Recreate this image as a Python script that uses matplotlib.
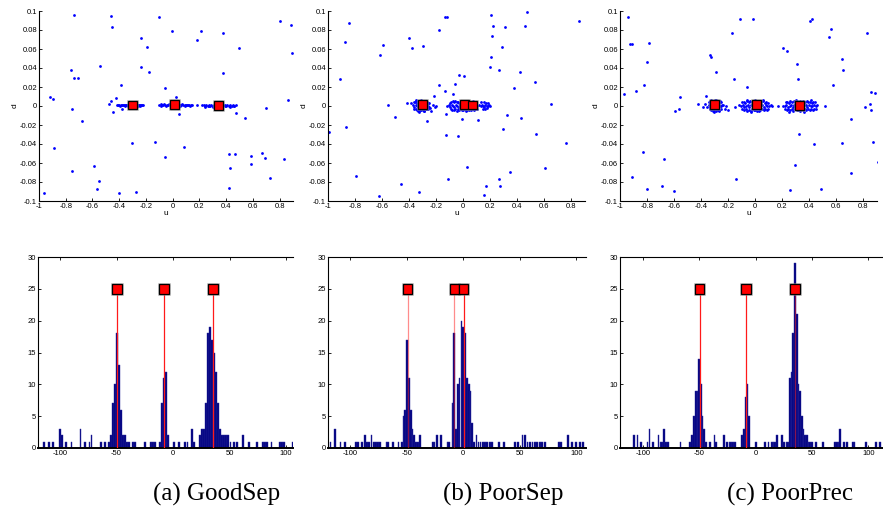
import matplotlib
matplotlib.use('Agg')
import matplotlib.pyplot as plt
import matplotlib.patheffects as pe
from matplotlib.ticker import FuncFormatter

plt.rcParams['font.family'] = ['Liberation Sans', 'DejaVu Sans']
plt.rcParams['axes.unicode_minus'] = False

# ---------------- data: captions ----------------
captions = ["(a) GoodSep", "(b) PoorSep", "(c) PoorPrec"]

# ---------------- data: scatter outliers (u, d) ----------------
out_u_a = [-0.735, -0.4625, -0.4575, -0.1, -0.005, 0.215, 0.375, 0.8, 0.885, -0.235, 0.1825, -0.19, 0.4975,
           0.895, -0.545, -0.235, -0.18, -0.7625, -0.735, -0.71, 0.375, -0.39, -0.06, -0.9175, -0.8925, -0.425,
           0.025, -0.46, 0.86, -0.4775, -0.755, -0.3825, 0.045, -0.4475, -0.68, 0.47, 0.5425, 0.6975, -0.3025,
           -0.1325, 0.085, -0.89, -0.055, 0.42, 0.4625, 0.585, 0.67, 0.6875, 0.8325, 0.585, -0.585, -0.75,
           0.4275, -0.5475, 0.73, -0.565, 0.42, -0.2725, -0.4025, -0.96, 0.1825]
out_d_a = [0.0954, 0.0947, 0.0828, 0.0933, 0.0786, 0.0793, 0.0765, 0.0895, 0.0849, 0.0719, 0.0698, 0.0618, 0.0611,
           0.0554, 0.0421, 0.0414, 0.0361, 0.0382, 0.0298, 0.0298, 0.0344, 0.0225, 0.0186, 0.0098, 0.007, 0.0081,
           0.0091, 0.0053, 0.006, 0.0018, -0.0028, -0.0032, -0.0084, -0.0063, -0.0154, -0.0074, -0.0126, -0.0025,
           -0.0393, -0.0379, -0.0432, -0.0442, -0.0537, -0.0505, -0.0509, -0.0526, -0.0491, -0.0544, -0.0558,
           -0.0614, -0.0635, -0.0681, -0.0649, -0.0789, -0.0761, -0.0877, -0.086, -0.0905, -0.0919, -0.0912, 0.0007]

out_u_b = [0.2025, 0.474, 0.857, -0.847, -0.138, -0.123, 0.222, 0.306, 0.459, -0.18, 0.215, -0.398, -0.877,
           -0.593, -0.294, -0.378, 0.289, -0.615, 0.207, 0.198, 0.264, 0.42, -0.032, 0.005, -0.909, 0.531,
           -0.064, -0.18, 0.378, -0.138, -0.077, -0.215, -0.417, -0.558, 0.652, -0.131, -0.506, -0.269, -0.007,
           0.109, 0.425, 0.326, -0.867, 0.296, -0.995, 0.541, -0.126, -0.037, 0.758, 0.025, 0.602, 0.343, -0.79,
           -0.114, 0.267, -0.459, 0.17, 0.274, -0.328, 0.151, -0.622]
out_d_b = [0.0958, 0.099, 0.0891, 0.0877, 0.0933, 0.094, 0.0842, 0.0835, 0.0842, 0.0796, 0.0737, 0.0719, 0.0674,
           0.0639, 0.0632, 0.0614, 0.0618, 0.0537, 0.0516, 0.0414, 0.0382, 0.0354, 0.033, 0.0312, 0.0281, 0.0253,
           0.0228, 0.0218, 0.0193, 0.0154, 0.0123, 0.0105, 0.0035, 0.0011, 0.0021, -0.0088, -0.0119, -0.0154,
           -0.014, -0.0144, -0.013, -0.0091, -0.0225, -0.0246, -0.0274, -0.0295, -0.0305, -0.0312, -0.0386,
           -0.0639, -0.0653, -0.0698, -0.0737, -0.0765, -0.0768, -0.0825, -0.0839, -0.0846, -0.0902, -0.094, -0.0951]

out_u_c = [-0.938, -0.116, -0.015, 0.406, 0.421, -0.17, 0.825, 0.557, 0.544, -0.924, -0.911, -0.783, 0.207,
           0.234, -0.8, -0.335, -0.325, 0.31, 0.64, 0.65, -0.293, -0.158, 0.313, 0.574, -0.062, -0.825, -0.884,
           0.852, 0.884, -0.968, -0.559, -0.367, 0.85, 0.81, -0.564, -0.591, 0.852, 0.515, 0.707, 0.323, 0.431,
           0.638, 0.867, -0.828, -0.677, 0.911, 0.293, 0.707, -0.914, -0.145, -0.69, -0.8, 0.485, 0.254, -0.603,
           -0.153]
out_d_c = [0.094, 0.0912, 0.0912, 0.0891, 0.0912, 0.0768, 0.0772, 0.0807, 0.073, 0.0653, 0.0649, 0.066, 0.0607,
           0.0582, 0.0467, 0.054, 0.0519, 0.0439, 0.0491, 0.0379, 0.0361, 0.0284, 0.0284, 0.0225, 0.02, 0.0221,
           0.0154, 0.0144, 0.014, 0.0126, 0.0098, 0.0105, 0.0025, -0.0014, -0.0028, -0.0056, -0.0046, 0.0,
           -0.0137, -0.0298, -0.04, -0.0393, -0.0382, -0.0484, -0.0558, -0.0589, -0.0625, -0.0705, -0.0747,
           -0.0765, -0.0846, -0.087, -0.0874, -0.0881, -0.0891, -0.0014]

# ---------------- data: scatter cluster points (u, d) ----------------
# GoodSep: three thin clusters
clu_u_a = [
    -0.415, -0.406, -0.398, -0.389, -0.381, -0.372, -0.364, -0.355, -0.347, -0.338, -0.330, -0.321, -0.313,
    -0.304, -0.296, -0.287, -0.279, -0.270, -0.262, -0.253, -0.245, -0.236, -0.228, -0.220,
    -0.392, -0.360, -0.334, -0.309, -0.283, -0.258, -0.241,
    -0.100, -0.091, -0.082, -0.073, -0.064, -0.055, -0.046, -0.037, -0.028, -0.019, -0.010, -0.001, 0.008,
    0.017, 0.026, 0.035, 0.044, 0.053, 0.062, 0.071, 0.080, 0.089, 0.098, 0.107, 0.116, 0.125, 0.134, 0.142,
    -0.085, -0.050, -0.014, 0.022, 0.058, 0.094, 0.128,
    0.221, 0.232, 0.239, 0.251, 0.262, 0.268, 0.281, 0.289, 0.301, 0.309, 0.322, 0.331, 0.338, 0.351, 0.359,
    0.371, 0.379, 0.392, 0.401, 0.408, 0.421, 0.429, 0.441, 0.449, 0.461, 0.472,
    0.245, 0.275, 0.305, 0.335, 0.365, 0.395, 0.425, 0.455]
clu_d_a = [
    0.0010, 0.0012, 0.0008, 0.0013, 0.0010, 0.0014, 0.0009, 0.0012, 0.0011, 0.0015, 0.0008, 0.0012, 0.0016,
    0.0010, 0.0013, 0.0009, 0.0014, 0.0011, 0.0012, 0.0008, 0.0013, 0.0010, 0.0011, 0.0009,
    -0.0002, 0.0002, -0.0003, 0.0001, -0.0002, 0.0003, -0.0001,
    0.0012, 0.0016, 0.0010, 0.0014, 0.0018, 0.0011, 0.0015, 0.0009, 0.0017, 0.0012, 0.0014, 0.0010, 0.0016,
    0.0012, 0.0018, 0.0011, 0.0015, 0.0013, 0.0009, 0.0016, 0.0012, 0.0014, 0.0010, 0.0015, 0.0011, 0.0013,
    0.0009, 0.0012,
    -0.0001, 0.0003, -0.0002, 0.0002, 0.0000, -0.0003, 0.0002,
    0.0006, 0.0009, 0.0004, 0.0008, 0.0003, 0.0010, 0.0005, 0.0007, 0.0002, 0.0009, 0.0006, 0.0004, 0.0011,
    0.0005, 0.0008, 0.0003, 0.0007, 0.0010, 0.0004, 0.0006, 0.0002, 0.0008, 0.0005, 0.0009, 0.0003, 0.0006,
    -0.0008, -0.0005, -0.0010, -0.0006, -0.0009, -0.0004, -0.0007, -0.0005]

# PoorSep: left blob and merged middle blob
clu_u_b = [
    -0.372, -0.362, -0.353, -0.344, -0.336, -0.327, -0.318, -0.309, -0.300, -0.291, -0.282, -0.273, -0.264, -0.255,
    -0.367, -0.357, -0.348, -0.339, -0.330, -0.321, -0.312, -0.303, -0.294, -0.285, -0.276, -0.267, -0.258, -0.250,
    -0.364, -0.351, -0.341, -0.332, -0.323, -0.314, -0.305, -0.296, -0.287, -0.278, -0.269, -0.260,
    -0.346, -0.329, -0.311, -0.289, -0.271,
    -0.385, -0.244, -0.236, -0.222, -0.209, -0.201,
    -0.118, -0.106, -0.095, -0.085, -0.075, -0.065, -0.055, -0.045, -0.035, -0.025, -0.015, -0.005, 0.005,
    0.015, 0.025, 0.035, 0.045, 0.055, 0.065, 0.075, 0.085, 0.095, 0.105,
    -0.100, -0.089, -0.079, -0.069, -0.059, -0.049, -0.039, -0.029, -0.019, -0.009, 0.001, 0.011, 0.021,
    0.031, 0.041, 0.051, 0.061, 0.071, 0.081, 0.091,
    -0.092, -0.081, -0.071, -0.061, -0.050, -0.040, -0.030, -0.020, -0.010, 0.000, 0.010, 0.020, 0.030,
    0.040, 0.050, 0.060, 0.070, 0.080, 0.090, 0.100,
    0.118, 0.128, 0.137, 0.146, 0.155, 0.164, 0.173, 0.182, 0.191, 0.200,
    0.132, 0.150, 0.168, 0.186,
    0.143, 0.161, 0.179]
clu_d_b = [
    0.0012, -0.0008, 0.0015, 0.0003, -0.0010, 0.0018, 0.0006, -0.0004, 0.0013, 0.0002, -0.0012, 0.0010, 0.0004, -0.0006,
    0.0038, 0.0042, 0.0050, 0.0035, 0.0046, 0.0055, 0.0040, 0.0048, 0.0036, 0.0044, 0.0052, 0.0039, 0.0033, 0.0030,
    -0.0030, -0.0036, -0.0042, -0.0050, -0.0038, -0.0046, -0.0033, -0.0041, -0.0048, -0.0035, -0.0028, -0.0032,
    0.0062, -0.0058, 0.0065, -0.0055, 0.0025,
    0.0030, -0.0020, -0.0050, 0.0010, -0.0015, 0.0005,
    0.0005, 0.0012, -0.0006, 0.0015, 0.0002, -0.0010, 0.0011, 0.0004, -0.0007, 0.0014, 0.0001, -0.0009, 0.0013,
    0.0006, -0.0004, 0.0016, 0.0003, -0.0011, 0.0010, 0.0005, -0.0005, 0.0012, 0.0002,
    0.0035, 0.0042, 0.0048, 0.0038, 0.0052, 0.0040, 0.0045, 0.0036, 0.0050, 0.0043, 0.0039, 0.0047, 0.0034,
    0.0055, 0.0041, 0.0046, 0.0037, 0.0049, 0.0040, 0.0044,
    -0.0030, -0.0038, -0.0044, -0.0033, -0.0048, -0.0036, -0.0042, -0.0031, -0.0046, -0.0039, -0.0034, -0.0050,
    -0.0037, -0.0043, -0.0032, -0.0047, -0.0035, -0.0041, -0.0030, -0.0028,
    0.0008, -0.0005, 0.0012, 0.0002, -0.0008, 0.0015, 0.0004, -0.0003, 0.0010, 0.0001,
    0.0040, 0.0045, 0.0035, 0.0030,
    -0.0030, -0.0035, -0.0025]

# PoorPrec: three thick blobs
clu_u_c = [
    -0.345, -0.336, -0.327, -0.318, -0.309, -0.300, -0.291, -0.282, -0.273, -0.264, -0.255, -0.246,
    -0.341, -0.331, -0.322, -0.313, -0.304, -0.295, -0.286, -0.277, -0.268, -0.259, -0.250,
    -0.338, -0.329, -0.320, -0.311, -0.302, -0.293, -0.284, -0.275, -0.266, -0.257,
    -0.325, -0.307, -0.289, -0.271,
    -0.426, -0.372, -0.360, -0.236, -0.226, -0.215, -0.204, -0.383,
    -0.118, -0.104, -0.092, -0.080, -0.068, -0.056, -0.044, -0.032, -0.020, -0.008, 0.004, 0.016, 0.028,
    0.040, 0.052, 0.064, 0.076, 0.088, 0.100, 0.113, 0.127,
    -0.098, -0.086, -0.074, -0.062, -0.050, -0.038, -0.026, -0.014, -0.002, 0.010, 0.022, 0.034, 0.046,
    0.058, 0.070, 0.082, 0.094,
    -0.095, -0.083, -0.071, -0.059, -0.047, -0.035, -0.023, -0.011, 0.001, 0.013, 0.025, 0.037, 0.049,
    0.061, 0.073, 0.085, 0.097,
    -0.060, -0.030, 0.000, 0.030, 0.060,
    0.205, 0.218, 0.230, 0.242, 0.254, 0.266, 0.278, 0.290, 0.302, 0.314, 0.326, 0.338, 0.350, 0.362,
    0.374, 0.386, 0.398, 0.410, 0.422, 0.434, 0.446, 0.458,
    0.224, 0.236, 0.248, 0.260, 0.272, 0.284, 0.296, 0.308, 0.320, 0.332, 0.344, 0.356, 0.368, 0.380,
    0.392, 0.404, 0.416, 0.428, 0.440,
    0.221, 0.233, 0.245, 0.257, 0.269, 0.281, 0.293, 0.305, 0.317, 0.329, 0.341, 0.353, 0.365, 0.377,
    0.389, 0.401, 0.413, 0.425, 0.437, 0.449,
    0.170, 0.250, 0.300, 0.360, 0.410]
clu_d_c = [
    0.0008, -0.0006, 0.0014, 0.0002, -0.0011, 0.0010, 0.0004, -0.0008, 0.0015, 0.0001, -0.0004, 0.0009,
    0.0040, 0.0048, 0.0036, 0.0053, 0.0044, 0.0058, 0.0039, 0.0047, 0.0034, 0.0050, 0.0037,
    -0.0035, -0.0044, -0.0030, -0.0049, -0.0038, -0.0053, -0.0033, -0.0046, -0.0040, -0.0031,
    0.0062, -0.0058, 0.0066, -0.0055,
    0.0020, 0.0020, -0.0010, 0.0010, -0.0030, 0.0005, -0.0040, -0.0015,
    0.0006, -0.0003, 0.0012, -0.0009, 0.0004, 0.0015, -0.0006, 0.0009, 0.0001, -0.0012, 0.0013, 0.0003,
    -0.0005, 0.0011, 0.0007, -0.0010, 0.0014, 0.0002, -0.0004, 0.0008, 0.0000,
    0.0038, 0.0046, 0.0034, 0.0052, 0.0042, 0.0056, 0.0037, 0.0049, 0.0041, 0.0054, 0.0035, 0.0047, 0.0040,
    0.0051, 0.0036, 0.0045, 0.0033,
    -0.0034, -0.0042, -0.0029, -0.0048, -0.0037, -0.0052, -0.0031, -0.0045, -0.0039, -0.0050, -0.0033,
    -0.0044, -0.0036, -0.0047, -0.0030, -0.0041, -0.0028,
    0.0063, -0.0060, 0.0066, -0.0057, 0.0061,
    0.0005, -0.0004, 0.0012, -0.0010, 0.0003, 0.0014, -0.0007, 0.0009, 0.0001, -0.0012, 0.0011, 0.0004,
    -0.0005, 0.0013, 0.0006, -0.0009, 0.0015, 0.0002, -0.0003, 0.0010, -0.0001, 0.0007,
    0.0039, 0.0047, 0.0035, 0.0053, 0.0043, 0.0057, 0.0038, 0.0050, 0.0042, 0.0055, 0.0036, 0.0048, 0.0041,
    0.0052, 0.0037, 0.0046, 0.0034, 0.0044, 0.0040,
    -0.0033, -0.0041, -0.0029, -0.0047, -0.0036, -0.0051, -0.0031, -0.0044, -0.0038, -0.0050, -0.0032,
    -0.0043, -0.0035, -0.0046, -0.0030, -0.0040, -0.0027, -0.0045, -0.0034, -0.0029,
    0.0005, -0.0060, 0.0064, -0.0058, 0.0062]

# ---------------- data: estimated centres (u, d) ----------------
cen_u_a = [-0.3025, 0.0125, 0.34]
cen_d_a = [0.001, 0.0018, 0.0007]
cen_u_b = [-0.304, 0.010, 0.067]
cen_d_b = [0.0014, 0.0014, 0.001]
cen_u_c = [-0.303, 0.010, 0.330]
cen_d_c = [0.0014, 0.0018, 0.0007]

# ---------------- data: histograms (bin centre, count) ----------------
hist_x_a = [-114, -110, -106, -100, -98.2, -95, -90, -82, -78, -74, -72.2, -64, -60, -56.8, -55, -53.2, -51.4,
            -49.6, -47.8, -46, -44.2, -42.4, -40.6, -38.8, -35.4, -33.6, -25, -19.4, -17.6, -15.8, -11.6, -9.8,
            -8, -6.2, -4.4, 0.7, 5, 10.8, 12.6, 16.8, 18.6, 23.5, 25.3, 27.1, 28.9, 30.7, 32.5, 34.3, 36.1, 37.9,
            39.7, 41.5, 43.3, 45.1, 46.9, 48.7, 50.7, 53.6, 56.6, 61.6, 66.9, 74.3, 79.3, 81.1, 83.1, 87, 94.3,
            96.4, 98.2, 106]
hist_y_a = [1, 1, 1, 3, 2, 1, 1, 3, 1, 1, 2, 1, 1, 1, 2, 7, 10, 18, 13, 6, 2, 2, 1, 1, 1, 1, 1, 1, 1, 1,
            1, 7, 11, 12, 2, 1, 1, 1, 1, 3, 1, 2, 3, 3, 7, 18, 19, 17, 15, 12, 7, 3, 2, 2, 2, 2, 1, 1, 1, 2,
            1, 1, 1, 1, 1, 1, 1, 1, 1, 1]

hist_x_b = [-117.3, -113.3, -108.5, -104.4, -95, -93.2, -89.6, -87, -85.2, -83.5, -81.1, -79.1, -77.3, -75.2,
            -73.5, -67.9, -66.4, -62, -57.2, -54.4, -52.8, -51.2, -49.6, -48, -46.4, -44.8, -43.2, -41.6, -40,
            -38.4, -27, -25.4, -23.2, -19.4, -14, -12.4, -9.6, -8, -6.4, -4.8, -3.2, -1.6, 0, 1.6, 3.2, 4.8, 6.4,
            8, 9.6, 11.8, 13.4, 15.4, 17.5, 19.5, 21.3, 23.4, 25.4, 31.6, 35.9, 45.6, 48.6, 52.4, 54.5, 56.8,
            58.8, 61.2, 63.2, 65.3, 67.6, 69.4, 72.3, 84.5, 86.6, 92.8, 96.3, 99.8, 103.4, 105.7]
hist_y_b = [1, 3, 1, 1, 1, 1, 1, 2, 1, 1, 2, 1, 1, 1, 1, 1, 1, 1, 1, 1, 5, 6, 17, 11, 6, 3, 2, 1, 1, 2,
            1, 1, 2, 2, 1, 1, 7, 18, 3, 10, 11, 20, 19, 18, 11, 10, 9, 4, 1, 2, 1, 1, 1, 1, 1, 1, 1, 1, 1, 1,
            1, 2, 2, 1, 1, 1, 1, 1, 1, 1, 1, 1, 1, 2, 1, 1, 1, 1]

hist_x_c = [-107.8, -104.9, -101.9, -96, -94.4, -91, -86.2, -84.5, -83, -81.2, -79.4, -77.7, -66.7, -58.1,
            -56.3, -54.8, -53.3, -51.8, -50.3, -48.8, -47.3, -45.8, -44.3, -40.3, -36.7, -35.2, -28.2, -25.2,
            -23.4, -21.8, -20.2, -18.7, -11.9, -10.4, -8.9, -7.4, -5.9, 0, 8.3, 11.3, 14.2, 15.7, 17.1, 18.6,
            23.4, 25.1, 27.2, 28.9, 30.4, 31.9, 33.4, 34.9, 36.4, 37.9, 39.4, 40.9, 42.4, 43.9, 45.4, 46.9, 48.4,
            49.9, 53.5, 59.9, 70.6, 72.1, 73.6, 75.1, 78.3, 81.2, 86.2, 87.8, 97.8, 106.7, 110.2]
hist_y_c = [2, 2, 1, 1, 3, 1, 2, 1, 1, 3, 1, 1, 1, 1, 2, 5, 9, 9, 14, 10, 5, 3, 1, 1, 2, 1, 2, 1, 1, 1,
            1, 1, 2, 3, 8, 10, 5, 1, 1, 1, 1, 1, 1, 2, 2, 1, 1, 1, 11, 12, 18, 29, 21, 10, 9, 5, 3, 2, 2, 1,
            1, 1, 1, 1, 1, 1, 1, 3, 1, 1, 1, 1, 1, 1, 1]

# estimated source directions (histogram markers) and their height
src_x_a = [-49.8, -8.3, 35.0]
src_x_b = [-49.2, -7.8, 0.3]
src_x_c = [-49.9, -8.4, 34.9]
src_level = 25

# ---------------- layout / style ----------------
W, H = 883, 512
fig = plt.figure(figsize=(W / 100, H / 100), dpi=100)


def box(l, t, r, b):
    return [l / W, 1 - b / H, (r - l) / W, (b - t) / H]


top_boxes = [box(39, 11, 293, 201), box(328, 11, 585, 201), box(620, 11, 877, 201)]
bot_boxes = [box(38, 257, 293, 448), box(328, 257, 586, 448), box(620, 257, 883, 448)]
hist_xlims = [(-119.5, 106), (-119.5, 108.5), (-120.5, 113)]
line_alpha = [[1, 1, 1], [0.5, 0.5, 1], [1, 1, 0.5]]
caption_x = [217, 503, 790]

scatter_sets = [
    (out_u_a, out_d_a, clu_u_a, clu_d_a, cen_u_a, cen_d_a),
    (out_u_b, out_d_b, clu_u_b, clu_d_b, cen_u_b, cen_d_b),
    (out_u_c, out_d_c, clu_u_c, clu_d_c, cen_u_c, cen_d_c),
]
hist_sets = [(hist_x_a, hist_y_a, src_x_a), (hist_x_b, hist_y_b, src_x_b), (hist_x_c, hist_y_c, src_x_c)]

fs = 5.5
halo = [pe.Stroke(linewidth=1.8, foreground='#8c8c8c', alpha=0.7), pe.Normal()]
gfmt = FuncFormatter(lambda v, p: '%g' % round(v, 6))

for i in range(3):
    ou, od, cu, cd, mu, md = scatter_sets[i]
    ax = fig.add_axes(top_boxes[i])
    ax.plot(ou, od, 'o', ls='none', color='#0000ff', ms=2.0, mew=0)
    ax.plot(cu, cd, 'o', ls='none', color='#0000ff', ms=2.0, mew=0)
    ax.plot(mu, md, 's', ls='none', ms=6.4, mfc='#ff0000', mec='black', mew=0.9,
            path_effects=halo, zorder=5)
    ax.set_xlim(-1, 0.9)
    ax.set_ylim(-0.1, 0.1)
    ax.set_xticks([-1, -0.8, -0.6, -0.4, -0.2, 0, 0.2, 0.4, 0.6, 0.8])
    ax.set_yticks([-0.1, -0.08, -0.06, -0.04, -0.02, 0, 0.02, 0.04, 0.06, 0.08, 0.1])
    ax.xaxis.set_major_formatter(gfmt)
    ax.yaxis.set_major_formatter(gfmt)
    ax.tick_params(direction='in', length=2.5, width=0.6, labelsize=fs, pad=1.5)
    for s in ['top', 'right']:
        ax.spines[s].set_visible(False)
    for s in ['left', 'bottom']:
        ax.spines[s].set_linewidth(0.8)
    ax.set_xlabel('u', fontsize=fs + 0.5, labelpad=0)
    ax.set_ylabel('d', fontsize=fs + 0.5, labelpad=1)
    ax.patch.set_alpha(0)

for i in range(3):
    hx, hy, sx = hist_sets[i]
    ax = fig.add_axes(bot_boxes[i])
    ax.bar(hx, hy, width=1.5, color='#00007f', edgecolor='#2b2b9c', linewidth=0.3, zorder=2)
    for x, a in zip(sx, line_alpha[i]):
        ax.vlines(x, 0, src_level, colors='#ff1a1a', linewidth=0.9, alpha=a, zorder=3)
    ax.plot(sx, [src_level] * len(sx), 's', ls='none', ms=7.0, mfc='#ff0000', mec='black', mew=0.9,
            path_effects=halo, zorder=5)
    ax.set_xlim(*hist_xlims[i])
    ax.set_ylim(0, 30)
    ax.set_xticks([-100, -50, 0, 50, 100])
    ax.set_yticks([0, 5, 10, 15, 20, 25, 30])
    ax.tick_params(direction='in', length=2.5, width=0.6, labelsize=fs, pad=1.5, top=True)
    ax.spines['right'].set_visible(False)
    for s in ['left', 'bottom', 'top']:
        ax.spines[s].set_linewidth(0.8)
    ax.spines['bottom'].set_linewidth(1.4)

for i in range(3):
    fig.text(caption_x[i] / W, 1 - 494 / H, captions[i], ha='center', va='center',
             fontsize=18, family=['Liberation Serif', 'DejaVu Serif'])

fig.savefig('out.png', dpi=100, facecolor='white')
